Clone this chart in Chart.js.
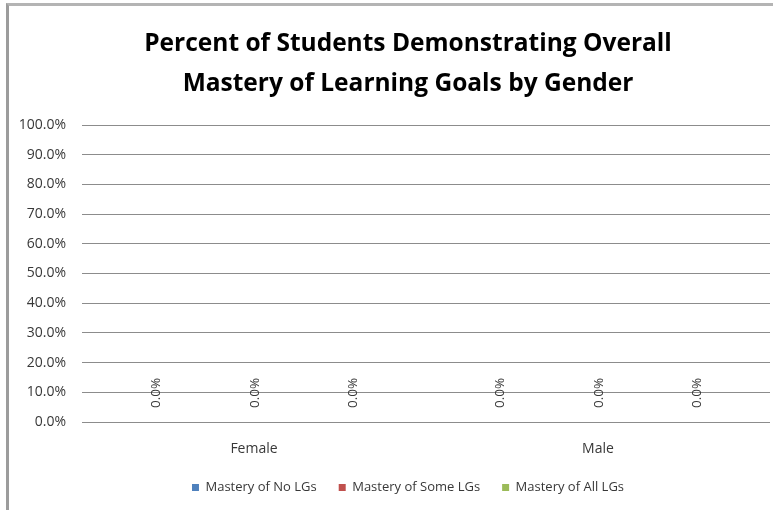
<!DOCTYPE html>
<html>
<head>
<meta charset="utf-8">
<script src="https://cdn.jsdelivr.net/npm/chart.js@4.4.1/dist/chart.umd.min.js"></script>
<style>
  html, body { margin: 0; padding: 0; background: #fff; overflow: hidden; width: 773px; height: 510px; }
  .frame { position: absolute; left: 6px; top: 3px; width: 840px; height: 540px;
           border-left: 3px solid #9c9c9c; border-top: 3px solid #b4b4b4; }
  .wrap { position: absolute; left: 9px; top: 6px; width: 812px; height: 498px; }
</style>
</head>
<body>
<div class="frame"></div>
<div class="wrap"><canvas id="chart"></canvas></div>
<script>
// data
const categories = ['Female', 'Male'];
const seriesNames = ['Mastery of No LGs', 'Mastery of Some LGs', 'Mastery of All LGs'];
const noLGs = [0, 0];
const someLGs = [0, 0];
const allLGs = [0, 0];
const seriesColors = ['#4F81BD', '#C0504D', '#9BBB59'];
const yMin = 0, yMax = 100, yStep = 10;

const textColor = '#383838';
const fontFamily = '"Open Sans", "Liberation Sans", sans-serif';

// rotated "0.0%" labels above each bar (Excel data labels)
const barLabels = {
  id: 'barLabels',
  afterDatasetsDraw(chart) {
    const ctx = chart.ctx;
    ctx.save();
    ctx.font = '13.5px ' + fontFamily;
    ctx.fillStyle = textColor;
    ctx.textAlign = 'left';
    ctx.textBaseline = 'middle';
    chart.data.datasets.forEach((ds, i) => {
      chart.getDatasetMeta(i).data.forEach((bar, j) => {
        ctx.save();
        ctx.translate(bar.x + 1, bar.y - 14);
        ctx.rotate(-Math.PI / 2);
        ctx.fillText(ds.data[j].toFixed(1) + '%', 0, 0);
        ctx.restore();
      });
    });
    ctx.restore();
  }
};

const ctx = document.getElementById('chart').getContext('2d');
new Chart(ctx, {
  type: 'bar',
  data: {
    labels: categories,
    datasets: [
      { label: seriesNames[0], data: noLGs, backgroundColor: seriesColors[0] },
      { label: seriesNames[1], data: someLGs, backgroundColor: seriesColors[1] },
      { label: seriesNames[2], data: allLGs, backgroundColor: seriesColors[2] }
    ]
  },
  options: {
    responsive: true,
    maintainAspectRatio: false,
    animation: false,
    layout: { padding: { left: 0, right: 14, top: 0, bottom: 0 } },
    datasets: { bar: { categoryPercentage: 0.86, barPercentage: 0.6 } },
    plugins: {
      title: {
        display: true,
        text: ['Percent of Students Demonstrating Overall', 'Mastery of Learning Goals by Gender'],
        color: '#000',
        font: { family: fontFamily, size: 24.5, weight: 'bold', lineHeight: 40 / 24.5 },
        padding: { top: 18, bottom: 21 }
      },
      legend: {
        position: 'bottom',
        labels: {
          boxWidth: 7, boxHeight: 7, padding: 22,
          color: textColor,
          font: { family: fontFamily, size: 13 }
        }
      },
      tooltip: { enabled: false }
    },
    scales: {
      x: {
        afterFit(scale) { scale.height = 37; },
        grid: { display: false },
        border: { display: false },
        ticks: { color: textColor, font: { family: fontFamily, size: 14 }, padding: 11 }
      },
      y: {
        min: yMin, max: yMax,
        afterFit(scale) { scale.width = 73; },
        grid: { color: '#8c8c8c', drawTicks: false },
        border: { display: false },
        ticks: {
          stepSize: yStep,
          padding: 16,
          color: textColor,
          font: { family: fontFamily, size: 14 },
          callback: v => v.toFixed(1) + '%'
        }
      },
      yRight: {
        position: 'right',
        afterFit(scale) { scale.width = 37; },
        grid: { display: false },
        border: { display: false },
        ticks: { display: false }
      }
    }
  },
  plugins: [barLabels]
});
</script>
</body>
</html>
